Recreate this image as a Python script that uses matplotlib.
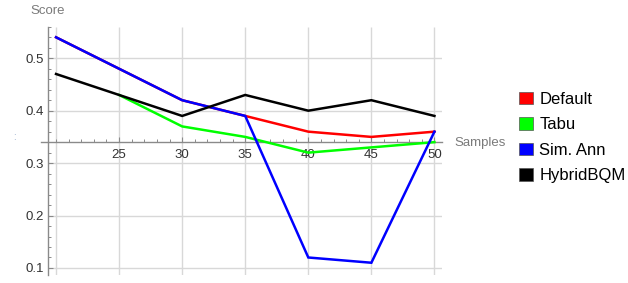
import numpy as np
import matplotlib
matplotlib.use("Agg")
import matplotlib.pyplot as plt
from matplotlib.patches import Patch

plt.rcParams["font.family"] = ["Liberation Sans", "DejaVu Sans"]

# Data
samples = [20, 25, 30, 35, 40, 45, 50]
default = [0.54, 0.48, 0.42, 0.39, 0.36, 0.35, 0.36]
tabu = [np.nan, 0.43, 0.37, 0.35, 0.32, 0.33, 0.34]
sim_ann = [0.54, 0.48, 0.42, 0.39, 0.12, 0.11, 0.36]
hybrid = [0.47, 0.43, 0.39, 0.43, 0.40, 0.42, 0.39]

series_names = ["Default", "Tabu", "Sim. Ann", "HybridBQM"]
series_colors = ["#ff0000", "#00ff00", "#0000ff", "#000000"]

x_major = [25, 30, 35, 40, 45, 50]
x_grid = [20, 25, 30, 35, 40, 45, 50]
y_major = [0.1, 0.2, 0.3, 0.4, 0.5]

xmin, xmax = 18.8, 50.6
ymin, ymax = 0.087, 0.56
x_origin, y_origin = 19.4, 0.34

W, H = 628, 283
fig = plt.figure(figsize=(W / 100, H / 100), dpi=100)
# axes box in pixels: left 40.9, right 442, top 26.8, bottom 274.8
ax = fig.add_axes([40.9 / W, 1 - 274.8 / H, (442 - 40.9) / W, (274.8 - 26.8) / H])
ax.set_xlim(xmin, xmax)
ax.set_ylim(ymin, ymax)

grid_c = "#d8d8d8"
ax.vlines(x_grid, ymin, ymax, color=grid_c, lw=1.0, zorder=0)
ax.hlines(y_major, x_origin, xmax, color=grid_c, lw=1.0, zorder=0)

for vals, c in zip([default, tabu, sim_ann, hybrid], series_colors):
    ax.plot(samples, vals, color=c, lw=1.8, zorder=3, solid_joinstyle="miter")

for s in ["top", "right"]:
    ax.spines[s].set_visible(False)
ax.spines["left"].set_position(("data", x_origin))
ax.spines["bottom"].set_position(("data", y_origin))
for s in ["left", "bottom"]:
    ax.spines[s].set_color("#8a8a8a")
    ax.spines[s].set_linewidth(1.0)

ax.set_xticks(x_major)
ax.set_xticks(np.arange(20, 51, 1), minor=True)
ax.set_yticks(y_major)
ax.set_yticks(np.arange(0.1, 0.56, 0.02), minor=True)
ax.set_yticklabels([f"{v:.1f}" for v in y_major])
ax.tick_params(which="major", direction="in", length=3.6, width=0.8, color="#8a8a8a",
               labelsize=9.5, labelcolor="#333333", pad=3)
ax.tick_params(which="minor", direction="in", length=2.2, width=0.7, color="#8a8a8a")
ax.tick_params(axis="x", which="major", pad=5)

fig.text(30 / W, 1 - 11 / H, "Score", fontsize=9.5, color="#7a7a7a", va="center", ha="left")
fig.text(454 / W, 1 - 143 / H, "Samples", fontsize=9.5, color="#7a7a7a", va="center", ha="left")
fig.text(14 / W, 1 - 137 / H, ":", fontsize=7, color="#8fa8c8", va="center", ha="center")

handles = [Patch(facecolor=c, edgecolor="#555555", linewidth=0.5) for c in series_colors]
fig.legend(handles, series_names, loc="center left", bbox_to_anchor=(511 / W, 1 - 137.5 / H),
           frameon=False, fontsize=12, handlelength=0.8, handleheight=0.8,
           handletextpad=0.4, labelspacing=0.62, borderpad=0)

plt.savefig("out.png", dpi=100)
